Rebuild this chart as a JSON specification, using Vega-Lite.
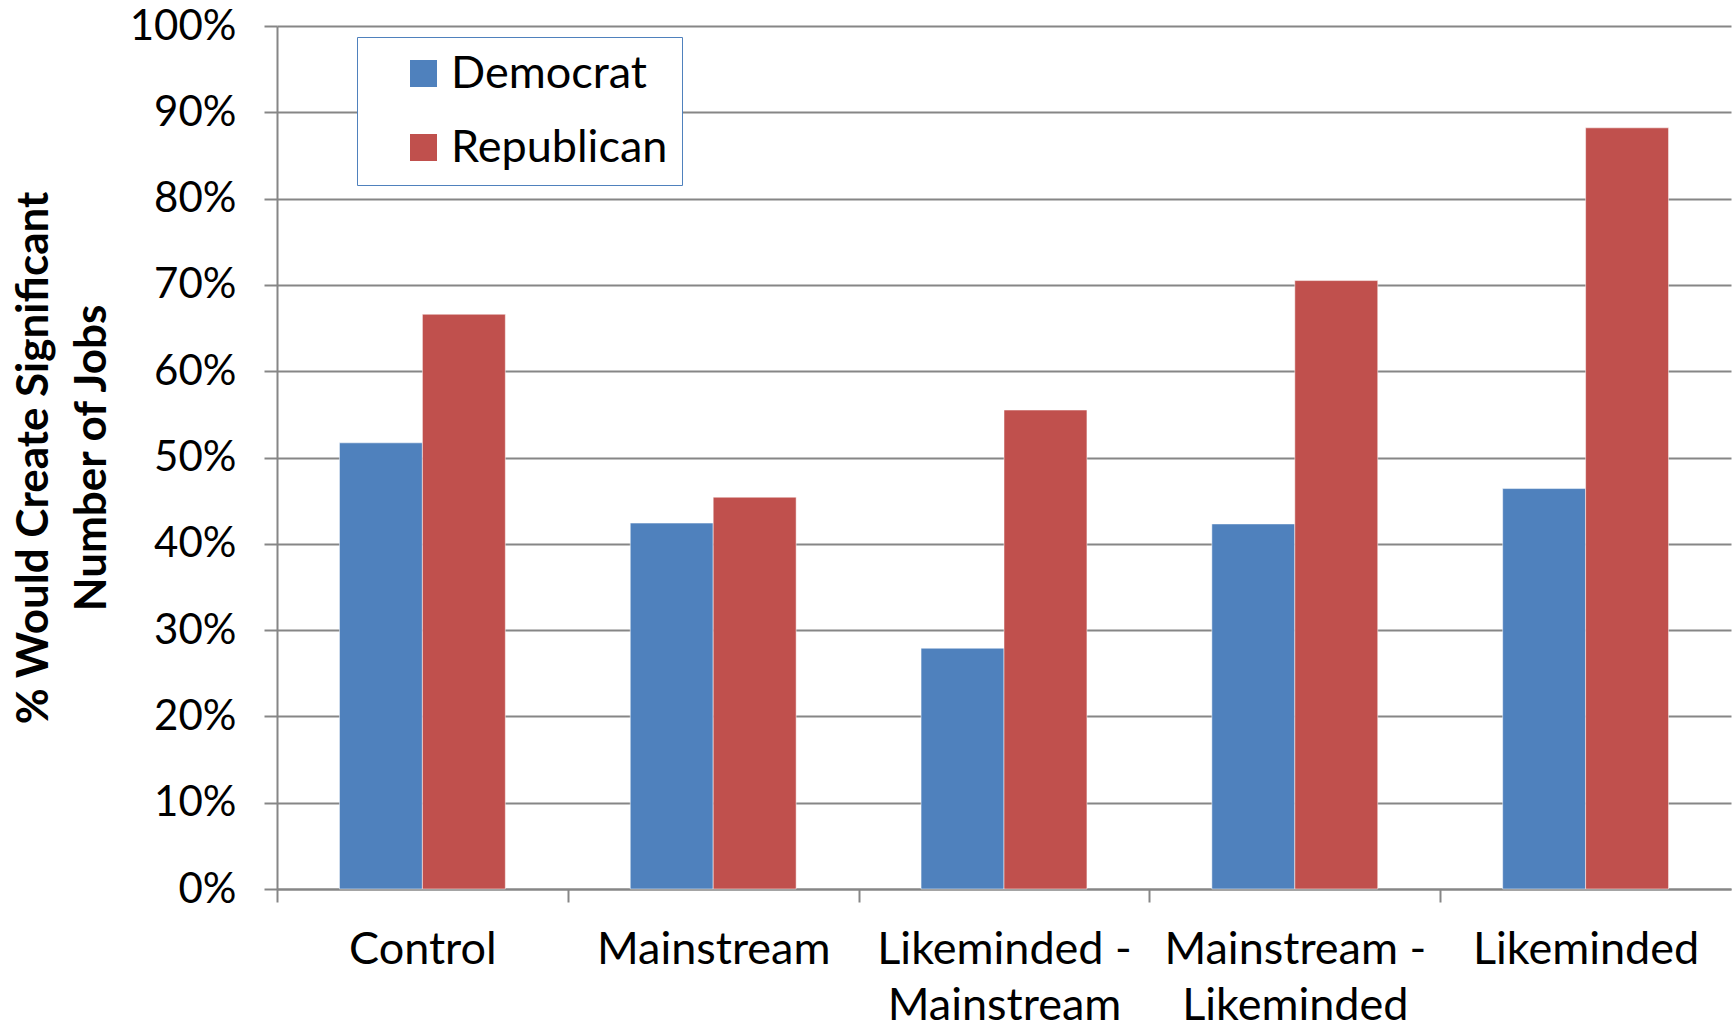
{
  "$schema": "https://vega.github.io/schema/vega-lite/v6.json",
  "width": 1454,
  "height": 863,
  "padding": {"left": 12, "top": 5, "right": 5, "bottom": 5},
  "background": "#ffffff",
  "data": {
    "values": [
      {"condition": "Control", "party": "Democrat", "pct": 51.7},
      {"condition": "Control", "party": "Republican", "pct": 66.6},
      {"condition": "Mainstream", "party": "Democrat", "pct": 42.4},
      {"condition": "Mainstream", "party": "Republican", "pct": 45.4},
      {"condition": "Likeminded - Mainstream", "party": "Democrat", "pct": 27.9},
      {"condition": "Likeminded - Mainstream", "party": "Republican", "pct": 55.5},
      {"condition": "Mainstream - Likeminded", "party": "Democrat", "pct": 42.3},
      {"condition": "Mainstream - Likeminded", "party": "Republican", "pct": 70.5},
      {"condition": "Likeminded", "party": "Democrat", "pct": 46.4},
      {"condition": "Likeminded", "party": "Republican", "pct": 88.2}
    ]
  },
  "config": {
    "view": {"stroke": null},
    "font": "Lato"
  },
  "mark": {"type": "bar", "stroke": "#ffffff", "strokeOpacity": 0.5, "strokeWidth": 1},
  "encoding": {
    "x": {
      "field": "condition",
      "type": "nominal",
      "sort": ["Control", "Mainstream", "Likeminded - Mainstream", "Mainstream - Likeminded", "Likeminded"],
      "scale": {"paddingInner": 0, "paddingOuter": 0},
      "axis": {
        "title": null,
        "labelAngle": 0,
        "labelFontSize": 45,
        "labelColor": "#000000",
        "labelPadding": 25,
        "labelLineHeight": 56,
        "labelLimit": 500,
        "tickOffset": -145.4,
        "labelOffset": 145.4,
        "tickSize": 13,
        "tickColor": "#868686",
        "tickWidth": 2,
        "domainColor": "#868686",
        "domainWidth": 2,
        "grid": false,
        "labelExpr": "indexof(datum.value, ' - ') > 0 ? [split(datum.value, ' - ')[0] + ' -', split(datum.value, ' - ')[1]] : datum.value"
      }
    },
    "xOffset": {
      "field": "party",
      "type": "nominal",
      "sort": ["Democrat", "Republican"],
      "scale": {"paddingInner": 0, "paddingOuter": 0.753}
    },
    "y": {
      "field": "pct",
      "type": "quantitative",
      "scale": {"domain": [0, 100], "nice": false},
      "axis": {
        "values": [0, 10, 20, 30, 40, 50, 60, 70, 80, 90, 100],
        "labelExpr": "datum.value + '%'",
        "labelFontSize": 42,
        "labelColor": "#000000",
        "labelPadding": 28,
        "tickSize": 13,
        "tickColor": "#868686",
        "tickWidth": 2,
        "domainColor": "#868686",
        "domainWidth": 2,
        "grid": true,
        "gridColor": "#868686",
        "gridWidth": 2,
        "title": ["% Would Create Significant", "Number of Jobs"],
        "titleFontSize": 44,
        "titleFontWeight": "bold",
        "titleColor": "#000000",
        "titleLineHeight": 58,
        "titlePadding": 15
      }
    },
    "color": {
      "field": "party",
      "type": "nominal",
      "scale": {"domain": ["Democrat", "Republican"], "range": ["#4F81BD", "#C0504D"]},
      "legend": {
        "title": null,
        "orient": "none",
        "legendX": 80,
        "legendY": 11,
        "direction": "vertical",
        "symbolType": "square",
        "symbolSize": 729,
        "symbolStrokeWidth": 0,
        "symbolOffset": 30,
        "labelFontSize": 45,
        "labelColor": "#000000",
        "labelOffset": 5,
        "labelLimit": 400,
        "rowPadding": 28,
        "padding": 14,
        "strokeColor": "#4F81BD",
        "fillColor": "#ffffff"
      }
    }
  }
}
